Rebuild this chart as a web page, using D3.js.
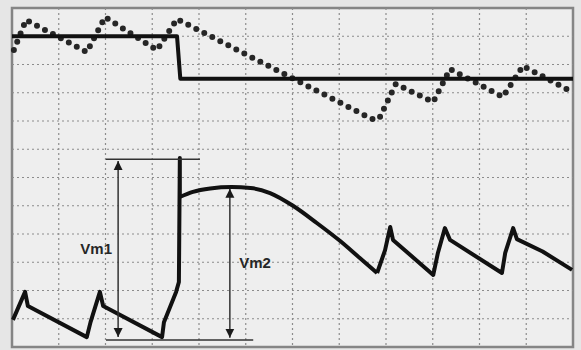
<!DOCTYPE html>
<html lang="en">
<head>
    <meta charset="UTF-8">
    <title>Vm1 / Vm2 waveform</title>
    <style>
        body {
            margin: 0;
            background-color: #e6e6e6;
        }

        .grid line {
            stroke: #8c8c8c;
            stroke-width: 1.2;
            stroke-dasharray: 2, 3;
        }

        .frame {
            fill: #eeeeee;
            stroke: #858585;
            stroke-width: 2.5;
        }

        .trace {
            fill: none;
            stroke: #111;
            stroke-width: 4;
            stroke-linejoin: round;
        }

        .dotted {
            fill: none;
            stroke: #262626;
            stroke-width: 6;
            stroke-linecap: round;
            stroke-dasharray: 0, 9;
        }

        .ref {
            stroke: #333;
            stroke-width: 1.5;
        }

        .label {
            font-family: "Liberation Sans", Arial, sans-serif;
            font-weight: bold;
            font-size: 15px;
            fill: #262626;
            text-anchor: middle;
            dominant-baseline: central;
        }
    </style>
</head>
<body>
    <svg id="chart" width="581" height="350"></svg>

    <script src="https://d3js.org/d3.v7.min.js"></script>
    <script>
        // values are in screen divisions (12 x 12), y counted from the bottom
        const stepLine = [[0, 11], [3.53, 11], [3.6, 9.5], [12, 9.5]];

        const dottedLine = [
            [0.04, 10.51], [0.30, 11.58], [1.60, 10.44], [1.99, 11.68],
            [3.10, 10.51], [3.53, 11.61], [7.70, 8.07], [7.85, 8.07],
            [8.21, 9.31], [9.01, 8.67], [9.37, 9.84], [10.50, 8.85],
            [10.93, 9.95], [11.94, 9.06]
        ];

        const waveStart = [
            [0.02, 0.96], [0.28, 1.95], [0.34, 1.45], [1.60, 0.35],
            [1.68, 0.88], [1.88, 1.95], [1.95, 1.45], [3.21, 0.35],
            [3.25, 0.88], [3.51, 1.95], [3.57, 2.3], [3.59, 6.69], [3.59, 5.31]
        ];

        const dome = [
            [3.59, 5.31], [3.87, 5.49], [4.24, 5.61], [4.70, 5.66],
            [5.10, 5.63], [5.52, 5.45], [6.01, 5.00], [6.52, 4.39],
            [7.02, 3.75], [7.44, 3.15], [7.81, 2.62]
        ];

        const waveEnd = [
            [7.81, 2.62], [7.98, 3.43], [8.09, 4.25], [8.15, 3.79],
            [9.01, 2.55], [9.11, 3.33], [9.26, 4.21], [9.37, 3.79],
            [10.48, 2.62], [10.55, 3.33], [10.72, 4.21], [10.80, 3.82],
            [11.35, 3.38], [11.98, 2.73]
        ];

        // measurement markers: name, x, top, bottom
        const markers = [
            { name: "Vm1", x: 2.27, top: 6.58, bottom: 0.35, labelX: 1.80, labelY: 3.50 },
            { name: "Vm2", x: 4.66, top: 5.60, bottom: 0.33, labelX: 5.20, labelY: 2.98 }
        ];
        const refLines = [
            { x1: 2.01, x2: 4.02, y: 6.65 },
            { x1: 2.01, x2: 5.16, y: 0.25 }
        ];

        const svg = d3.select("#chart");
        const x = d3.scaleLinear().domain([0, 12]).range([12, 573]);
        const y = d3.scaleLinear().domain([0, 12]).range([347, 8]);

        svg.append("rect")
            .attr("class", "frame")
            .attr("x", x(0)).attr("y", y(12))
            .attr("width", x(12) - x(0)).attr("height", y(0) - y(12));

        const divs = d3.range(1, 12);
        const grid = svg.append("g").attr("class", "grid");
        grid.selectAll(".v").data(divs).join("line")
            .attr("x1", d => x(d)).attr("x2", d => x(d))
            .attr("y1", y(12)).attr("y2", y(0));
        grid.selectAll(".h").data(divs).join("line")
            .attr("y1", d => y(d)).attr("y2", d => y(d))
            .attr("x1", x(0)).attr("x2", x(12));

        const line = d3.line().x(d => x(d[0])).y(d => y(d[1]));
        const smooth = d3.line().x(d => x(d[0])).y(d => y(d[1])).curve(d3.curveMonotoneX);

        svg.append("path").attr("class", "dotted").attr("d", line(dottedLine));
        svg.append("path").attr("class", "trace").attr("d", line(stepLine));
        svg.append("path").attr("class", "trace").attr("d", line(waveStart));
        svg.append("path").attr("class", "trace").attr("d", smooth(dome));
        svg.append("path").attr("class", "trace").attr("d", line(waveEnd));

        // arrow heads
        svg.append("defs").append("marker")
            .attr("id", "head")
            .attr("markerUnits", "userSpaceOnUse")
            .attr("markerWidth", 10).attr("markerHeight", 10)
            .attr("refX", 9).attr("refY", 5)
            .attr("orient", "auto-start-reverse")
            .append("path")
            .attr("d", "M0,0.5 L9,5 L0,9.5 Z")
            .attr("fill", "#1a1a1a");

        svg.selectAll(".refline").data(refLines).join("line")
            .attr("class", "ref")
            .attr("x1", d => x(d.x1)).attr("x2", d => x(d.x2))
            .attr("y1", d => y(d.y)).attr("y2", d => y(d.y));

        svg.selectAll(".arrow").data(markers).join("line")
            .attr("class", "ref")
            .attr("x1", d => x(d.x)).attr("x2", d => x(d.x))
            .attr("y1", d => y(d.bottom)).attr("y2", d => y(d.top))
            .attr("marker-start", "url(#head)")
            .attr("marker-end", "url(#head)");

        svg.selectAll(".label").data(markers).join("text")
            .attr("class", "label")
            .attr("x", d => x(d.labelX))
            .attr("y", d => y(d.labelY))
            .text(d => d.name);
    </script>
</body>
</html>
